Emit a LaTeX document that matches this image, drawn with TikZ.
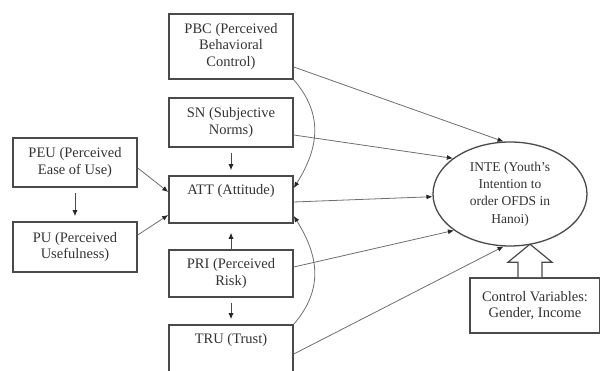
\documentclass[tikz,border=0pt]{standalone}
\usepackage{fontspec}
\setmainfont{Liberation Serif}
\usepackage{tikz}
\usetikzlibrary{arrows.meta,positioning,shapes.geometric}
\definecolor{boxgray}{HTML}{4A4A4A}
\definecolor{linegray}{HTML}{6E6E6E}
\definecolor{txtgray}{HTML}{333333}

\begin{document}
\begin{tikzpicture}[x=1pt, y=1pt,
  box/.style={draw=boxgray, line width=1.6pt, minimum width=124pt, inner xsep=2pt, inner ysep=4pt, align=center, text=txtgray, font=\fontsize{14.5}{16.8}\selectfont},
  topbox/.style={box, text height=15pt, text depth=24pt},
  arrow/.style={-{Latex[length=6pt,width=5pt,color=black!85]}, draw=linegray, line width=0.8pt},
  short/.style={arrow, draw=boxgray, shorten >=5pt, shorten <=5pt}
]
\useasboundingbox (0,0) rectangle (600,371);

% Middle column
\node[box, minimum height=65pt] (pbc) at (231, 324.5) {PBC (Perceived\\Behavioral\\Control)};
\node[box, minimum height=49pt] (sn) at (231, 248.5) {SN (Subjective\\Norms)};
\node[topbox, minimum height=47pt] (att) at (231, 171.5) {ATT (Attitude)};
\node[box, minimum height=47pt] (pri) at (231, 97.5) {PRI (Perceived\\Risk)};
\node[topbox, minimum height=47pt] (tru) at (231, 22.5) {TRU (Trust)};

% Left column
\node[box, minimum height=49pt] (peu) at (75, 208.5) {PEU (Perceived\\Ease of Use)};
\node[box, minimum height=50pt] (pu) at (75, 124) {PU (Perceived\\Usefulness)};

% Right side
\node[draw=boxgray, line width=1.3pt, ellipse, minimum width=154pt, minimum height=104pt, inner sep=0pt, align=center, text=txtgray, font=\fontsize{13.5}{17.4}\selectfont] (inte) at (510, 177) {INTE (Youth's\\Intention to\\order OFDS in\\Hanoi)};
\node[box, minimum width=130pt, minimum height=55pt] (ctrl) at (535, 65.5) {Control Variables:\\Gender, Income};

\draw[short] (peu) -- (pu);
\draw[short] (sn) -- (att);
\draw[short, shorten >=9pt, shorten <=0pt] (pri) -- (att);
\draw[short] (pri) -- (tru);

\draw[arrow] ([yshift=-5.5pt]peu.east) -- ([yshift=7.5pt]att.west);
\draw[arrow] ([yshift=12pt]pu.east) -- ([yshift=-15.5pt]att.west);

\draw[arrow] (pbc.south east) .. controls +(30,-35) and +(25,40) .. ([yshift=11.5pt]att.east);
\draw[arrow] (tru.north east) .. controls +(30,35) and +(25,-40) .. ([yshift=-16.5pt]att.east);

\draw[arrow] ([yshift=-20.5pt]pbc.east) -- (inte.97);
\draw[arrow] ([yshift=-12.5pt]sn.east) -- (inte.148);
\draw[arrow] ([yshift=-2.5pt]att.east) -- (inte.182);
\draw[arrow] ([yshift=6.5pt]pri.east) -- (inte.213);
\draw[arrow] ([yshift=-5.5pt]tru.east) -- (inte.263);

% Hollow arrow from control variables
\draw[draw=boxgray, line width=1.2pt, fill=white] ([xshift=-17pt]ctrl.north) -- ++(0,15) -- ++(-10,0) -- ++(22,18) -- ++(22,-18) -- ++(-10,0) -- ++(0,-15);

\end{tikzpicture}
\end{document}
